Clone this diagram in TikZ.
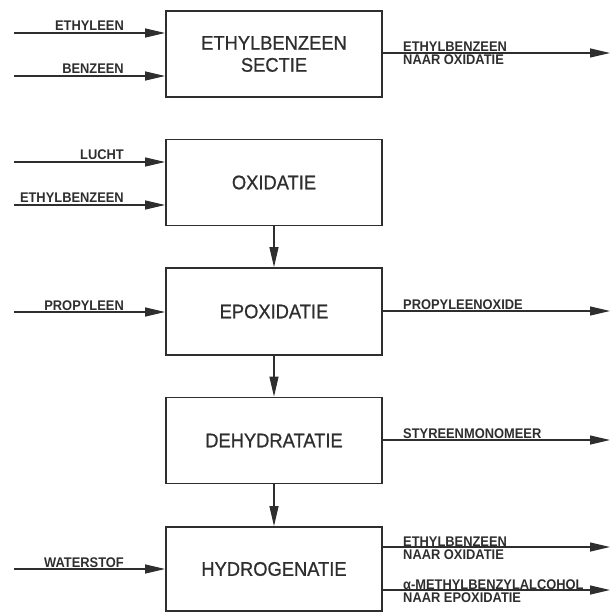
\documentclass[tikz,border=0pt]{standalone}
\usepackage{fontspec}
\setmainfont{Liberation Sans}
\newfontfamily\boxfont[FakeStretch=0.93,FakeBold=0.8]{Liberation Sans}
\newfontfamily\lblfont[FakeStretch=0.92]{Liberation Sans}
\usetikzlibrary{arrows.meta}
\definecolor{ink}{HTML}{2E2E2E}
\tikzset{
  proc/.style={draw=ink, line width=1.8pt, minimum width=216pt, minimum height=86pt,
    inner sep=0pt, align=center, text=ink, font=\boxfont\fontsize{19.7}{22}\selectfont},
  flow/.style={draw=ink, line width=1.2pt, -{Triangle[length=20pt,width=9pt]}},
  lbl/.style={inner sep=0pt, text=ink, font=\lblfont\bfseries\fontsize{14}{14}\selectfont}
}
\begin{document}
\begin{tikzpicture}[x=1pt,y=-1pt]
\useasboundingbox (0,0) rectangle (611,612);
% boxes
\node[proc] (b1) at (274,54) {ETHYLBENZEEN\\SECTIE};
\node[proc] (b2) at (274,182.5) {OXIDATIE};
\node[proc, minimum height=87pt] (b3) at (274,311.5) {EPOXIDATIE};
\node[proc] (b4) at (274,440.5) {DEHYDRATATIE};
\node[proc, minimum height=84pt] (b5) at (274,569) {HYDROGENATIE};
% vertical flows
\draw[flow] (b2) -- (b3);
\draw[flow] (b3) -- (b4);
\draw[flow] (b4) -- (b5);
% inputs
\coordinate (i1) at (14,33);
\coordinate (i2) at (14,76);
\coordinate (i3) at (14,162);
\coordinate (i4) at (14,205);
\coordinate (i5) at (14,312);
\coordinate (i6) at (14,569);
\draw[flow] (i1) -- (i1 -| b1.west);
\draw[flow] (i2) -- (i2 -| b1.west);
\draw[flow] (i3) -- (i3 -| b2.west);
\draw[flow] (i4) -- (i4 -| b2.west);
\draw[flow] (i5) -- (i5 -| b3.west);
\draw[flow] (i6) -- (i6 -| b5.west);
\node[lbl, anchor=base east] (l1) at (124,31) {ETHYLEEN};
\node[lbl, anchor=base east] (l2) at (124,74) {BENZEEN};
\node[lbl, anchor=base east] (l3) at (124,160) {LUCHT};
\node[lbl, anchor=base east] (l4) at (124,203) {ETHYLBENZEEN};
\node[lbl, anchor=base east] (l5) at (124,310) {PROPYLEEN};
\node[lbl, anchor=base east] (l6) at (124,567) {WATERSTOF};
% outputs
\coordinate (o1) at (610,53);
\coordinate (o2) at (610,311);
\coordinate (o3) at (610,440);
\coordinate (o4) at (610,547);
\coordinate (o5) at (610,590);
\draw[flow] (o1 -| b1.east) -- (o1);
\draw[flow] (o2 -| b3.east) -- (o2);
\draw[flow] (o3 -| b4.east) -- (o3);
\draw[flow] (o4 -| b5.east) -- (o4);
\draw[flow] (o5 -| b5.east) -- (o5);
\node[lbl, anchor=base west] (r1a) at (403,52) {ETHYLBENZEEN};
\node[lbl, anchor=base west] (r1b) at (403,65) {NAAR OXIDATIE};
\node[lbl, anchor=base west] (r2) at (403,309) {PROPYLEENOXIDE};
\node[lbl, anchor=base west] (r3) at (403,438) {STYREENMONOMEER};
\node[lbl, anchor=base west] (r4a) at (403,546) {ETHYLBENZEEN};
\node[lbl, anchor=base west] (r4b) at (403,559) {NAAR OXIDATIE};
\node[lbl, anchor=base west] (r5a) at (403,589) {α-METHYLBENZYLALCOHOL};
\node[lbl, anchor=base west] (r5b) at (403,602) {NAAR EPOXIDATIE};
\end{tikzpicture}
\end{document}
